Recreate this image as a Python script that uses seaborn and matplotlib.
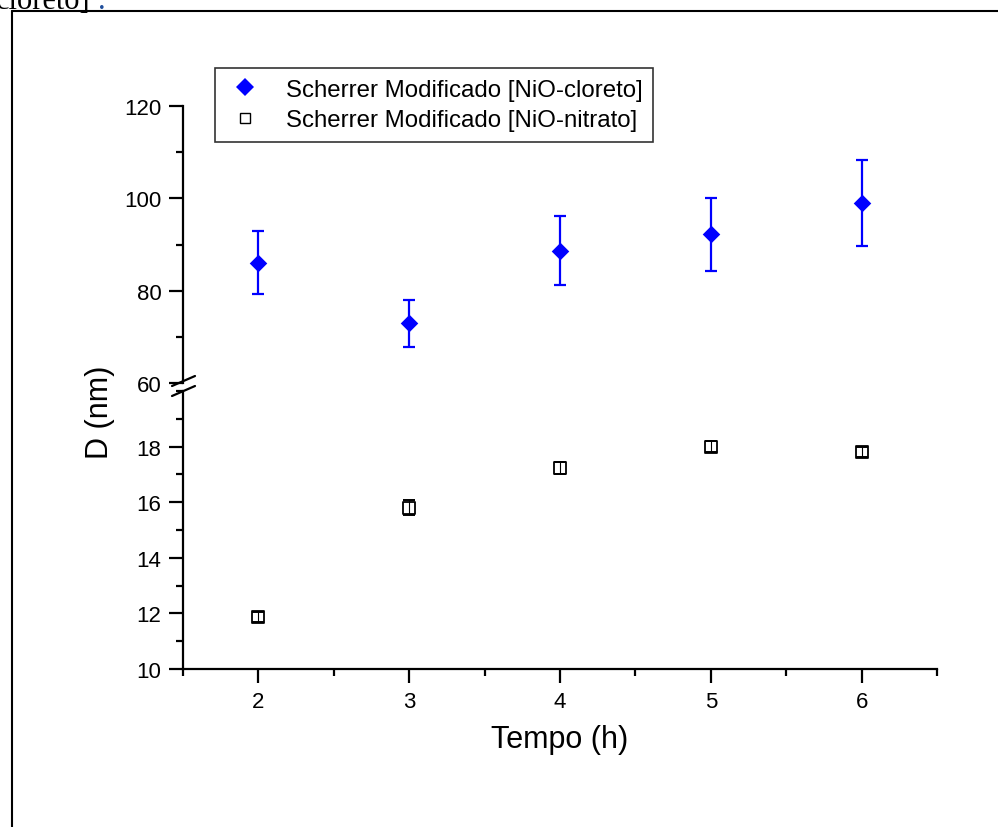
import matplotlib
matplotlib.use("Agg")
import matplotlib.pyplot as plt
from matplotlib.lines import Line2D
from matplotlib.ticker import MultipleLocator
import seaborn as sns
import pandas as pd

# ---- data ----
tempo = [2, 3, 4, 5, 6]
cloreto = [86.1, 72.9, 88.7, 92.2, 99.0]
cloreto_err = [6.9, 5.0, 7.4, 7.9, 9.3]
nitrato = [11.87, 15.80, 17.22, 18.00, 17.82]
nitrato_err = [0.19, 0.27, 0.21, 0.19, 0.18]
label_cl = "Scherrer Modificado [NiO-cloreto]"
label_ni = "Scherrer Modificado [NiO-nitrato]"

df_cl = pd.DataFrame({"Tempo": tempo, "D": cloreto, "err": cloreto_err})
df_ni = pd.DataFrame({"Tempo": tempo, "D": nitrato, "err": nitrato_err})

sns.set_theme(style="white")
plt.rcParams["font.family"] = ["Liberation Sans", "DejaVu Sans"]

W, H = 998, 828
fig = plt.figure(figsize=(W / 100, H / 100), dpi=100)

left = 183 / W
width = (937 - 183) / W
ax_top = fig.add_axes([left, 1 - 384 / H, width, (384 - 107) / H])
ax_bot = fig.add_axes([left, 1 - 670 / H, width, (670 - 392) / H])

blue = "#0000FF"

# top: cloreto
ax_top.errorbar(df_cl["Tempo"], df_cl["D"], yerr=df_cl["err"], fmt="none",
                ecolor=blue, elinewidth=1.6, capsize=4.5, capthick=1.6, zorder=2)
sns.scatterplot(data=df_cl, x="Tempo", y="D", ax=ax_top, marker="D", s=80,
                color=blue, edgecolor=blue, linewidth=0, zorder=3, legend=False)

# bottom: nitrato
sns.scatterplot(data=df_ni, x="Tempo", y="D", ax=ax_bot, marker="s", s=64,
                facecolor="white", edgecolor="black", linewidth=1.3, zorder=3, legend=False)
ax_bot.errorbar(df_ni["Tempo"], df_ni["D"], yerr=df_ni["err"], fmt="none",
                ecolor="black", elinewidth=0.8, capsize=4.3, capthick=1.4, zorder=4)

for ax in (ax_top, ax_bot):
    ax.set_xlim(1.5, 6.5)
    ax.set_xlabel("")
    ax.set_ylabel("")
    ax.set_facecolor("none")
    for s in ("top", "right"):
        ax.spines[s].set_visible(False)
    ax.spines["left"].set_color("black")
    ax.spines["left"].set_linewidth(1.6)
    ax.tick_params(axis="y", which="major", direction="out", length=10, width=1.6,
                   labelsize=16, color="black", labelcolor="black", left=True, pad=5.5)
    ax.tick_params(axis="y", which="minor", direction="out", length=5, width=1.6,
                   color="black", left=True)

ax_top.set_ylim(60, 120)
ax_top.yaxis.set_major_locator(MultipleLocator(20))
ax_top.yaxis.set_minor_locator(MultipleLocator(10))
ax_top.spines["bottom"].set_visible(False)
ax_top.set_xticks([])

ax_bot.set_ylim(10, 20)
ax_bot.set_yticks([10, 12, 14, 16, 18])
ax_bot.yaxis.set_minor_locator(MultipleLocator(1))
ax_bot.spines["bottom"].set_color("black")
ax_bot.spines["bottom"].set_linewidth(1.6)
ax_bot.set_xticks(tempo)
ax_bot.xaxis.set_minor_locator(MultipleLocator(0.5))
ax_bot.tick_params(axis="x", which="major", direction="out", length=10, width=1.6,
                   labelsize=16, color="black", labelcolor="black", bottom=True, pad=6)
ax_bot.tick_params(axis="x", which="minor", direction="out", length=5, width=1.6,
                   color="black", bottom=True)

# axis break marks
xb = 183 / W
for yp in (382, 392):
    fig.add_artist(Line2D([xb - 11 / W, xb + 12 / W],
                          [1 - (yp + 5) / H, 1 - (yp - 5) / H],
                          color="black", lw=1.6, transform=fig.transFigure))

# axis labels
fig.text(100 / W, 1 - 412 / H, "D (nm)", rotation=90, ha="center", va="center",
         fontsize=22, color="black")
fig.text(560 / W, 1 - 740 / H, "Tempo (h)", ha="center", va="center",
         fontsize=22, color="black")

# legend
handles = [
    Line2D([], [], marker="D", color=blue, linestyle="none", markersize=9, markeredgewidth=0),
    Line2D([], [], marker="s", markerfacecolor="white", markeredgecolor="black",
           linestyle="none", markersize=7.5, markeredgewidth=1.0),
]
leg = fig.legend(handles, [label_cl, label_ni], loc="upper left",
                 bbox_to_anchor=(215 / W, 1 - 69 / H), fontsize=17.3, frameon=True,
                 fancybox=False, shadow=False, borderpad=0.45, labelspacing=0.35,
                 handletextpad=0.9, handlelength=1.6, borderaxespad=0)
leg.get_frame().set_edgecolor("black")
leg.get_frame().set_linewidth(1.2)
for t in leg.get_texts():
    t.set_color("black")

# page frame
fig.add_artist(Line2D([12 / W, 1.0], [1 - 12 / H, 1 - 12 / H], color="black", lw=1.5,
                      transform=fig.transFigure))
fig.add_artist(Line2D([12 / W, 12 / W], [1 - 12 / H, 0], color="black", lw=1.5,
                      transform=fig.transFigure))

# cut-off caption text at top-left
fig.text(-4 / W, 1 - 9 / H, "cloreto]", family=["Liberation Serif", "DejaVu Serif"],
         fontsize=22, va="baseline", ha="left", color="black")
fig.text(98 / W, 1 - 9 / H, ".", family=["Liberation Serif", "DejaVu Serif"],
         fontsize=22, va="baseline", ha="left", color="#1f4e9c")

fig.savefig("out.png", dpi=100, facecolor="white")
